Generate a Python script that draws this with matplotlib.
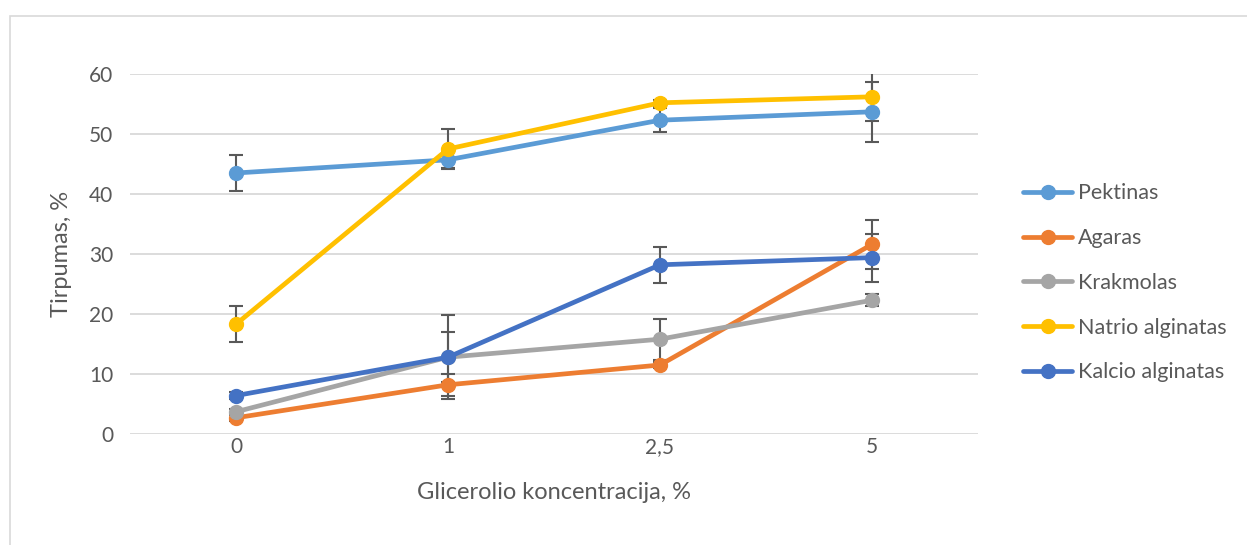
import numpy as np
import matplotlib
matplotlib.use("Agg")
import matplotlib.pyplot as plt
from matplotlib.patches import Rectangle

plt.rcParams['font.family'] = ['Lato', 'DejaVu Sans']

categories = ["0", "1", "2,5", "5"]
series_names = ["Pektinas", "Agaras", "Krakmolas", "Natrio alginatas", "Kalcio alginatas"]
colors = ["#5b9bd5", "#ed7d31", "#a5a5a5", "#ffc000", "#4472c4"]

pektinas = [43.5, 45.7, 52.3, 53.7]
pektinas_err = [3.0, 1.4, 2.0, 5.0]
agaras = [2.7, 8.2, 11.5, 31.6]
agaras_err = [0.5, 1.8, 0.5, 4.1]
krakmolas = [3.7, 12.8, 15.8, 22.3]
krakmolas_err = [0.5, 4.2, 3.4, 1.0]
natrio = [18.3, 47.5, 55.2, 56.2]
natrio_err = [3.0, 3.3, 0.5, 4.1]
kalcio = [6.4, 12.8, 28.2, 29.4]
kalcio_err = [0.6, 7.0, 3.0, 4.0]

values = [pektinas, agaras, krakmolas, natrio, kalcio]
errors = [pektinas_err, agaras_err, krakmolas_err, natrio_err, kalcio_err]

text_col = "#595959"

fig = plt.figure(figsize=(12.47, 5.45), dpi=100)
ax = fig.add_axes([130/1247, 1-434/545, 848/1247, 360/545])

# chart frame
fig.patches.append(Rectangle((10/1247, -0.05), 1.1, 1.05 - 16/545, transform=fig.transFigure,
                             fill=False, edgecolor="#d9d9d9", linewidth=1.2))

x = np.arange(len(categories))
for i, (name, v, e, c) in enumerate(zip(series_names, values, errors, colors)):
    ax.errorbar(x, v, yerr=e, fmt="none", ecolor="#595959", elinewidth=1.5,
                capsize=5, capthick=1.5, zorder=2 + i * 0.1)
for i, (name, v, c) in enumerate(zip(series_names, values, colors)):
    ax.plot(x, v, color=c, linewidth=3.4, marker="o", markersize=10,
            label=name, zorder=3 + i * 0.1, solid_capstyle="round")

ax.set_xlim(-0.5, 3.5)
ax.set_ylim(0, 60)
ax.set_yticks(np.arange(0, 61, 10))
ax.set_xticks(x)
ax.set_xticklabels(categories)
ax.grid(axis="y", color="#d9d9d9", linewidth=1.3)
ax.set_axisbelow(True)
for s in ax.spines.values():
    s.set_visible(False)
ax.tick_params(length=0, labelsize=15, labelcolor=text_col, pad=2)
ax.tick_params(axis="y", pad=12)
ax.set_xlabel("Glicerolio koncentracija, %", fontsize=17, color=text_col, labelpad=18)
ax.set_ylabel("Tirpumas, %", fontsize=17, color=text_col, labelpad=12)

leg = ax.legend(loc="upper left", bbox_to_anchor=(1.03, 0.75), frameon=False,
                fontsize=15.5, handlelength=2.3, handletextpad=0.25, labelspacing=1.15,
                labelcolor=text_col)

fig.savefig("out.png", dpi=100)
